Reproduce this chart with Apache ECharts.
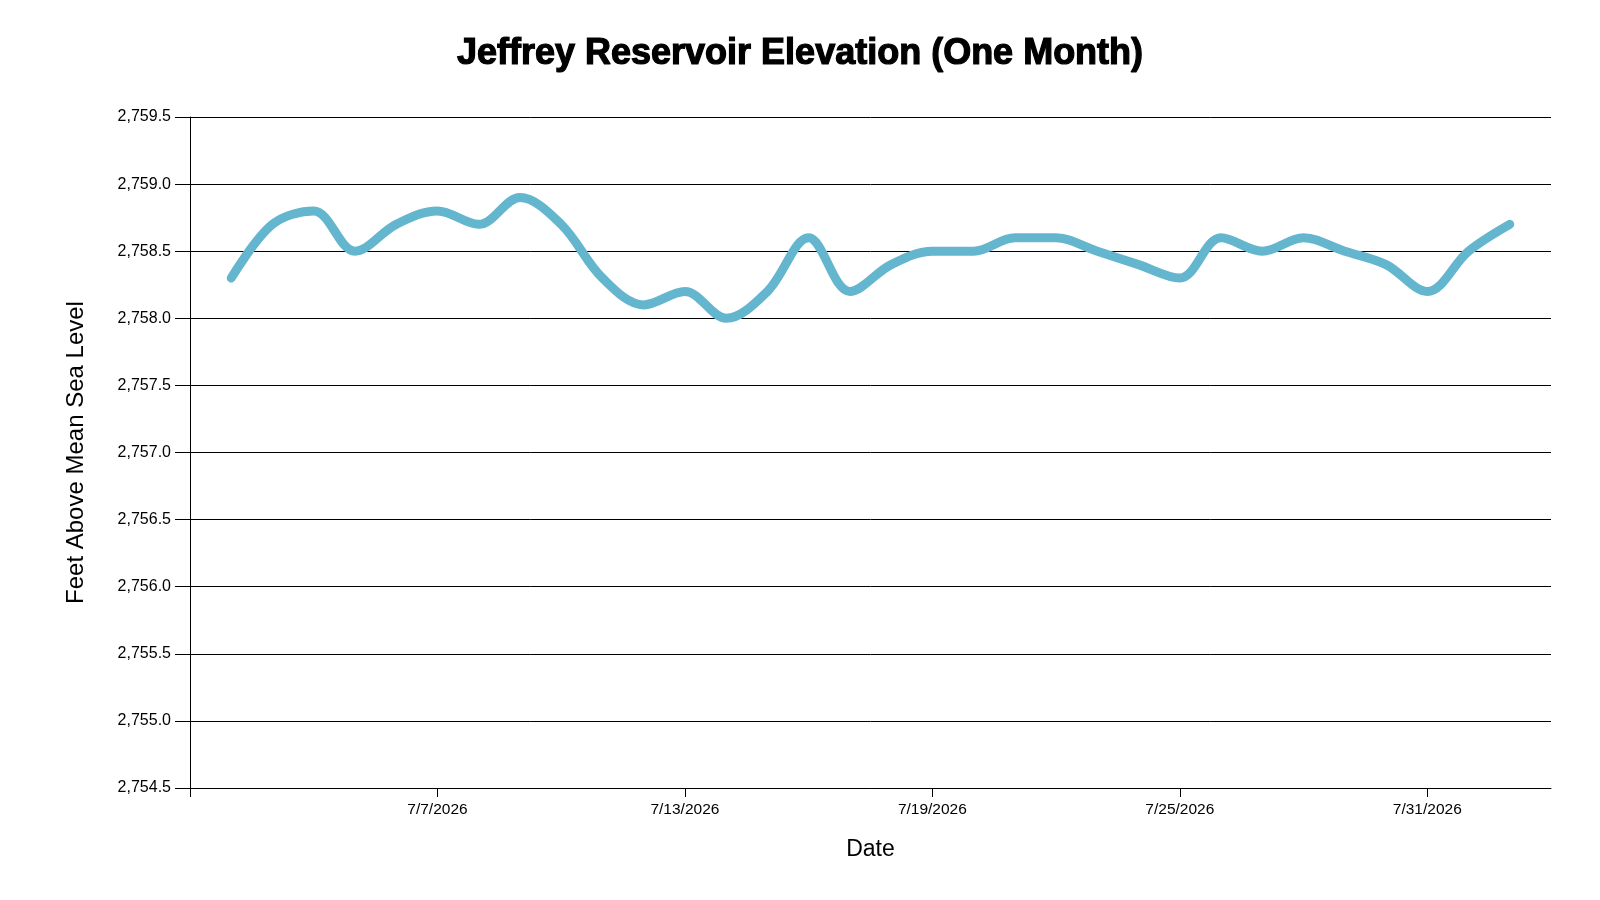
<!DOCTYPE html>
<html>
<head>
<meta charset="utf-8">
<title>Jeffrey Reservoir Elevation</title>
<script src="https://cdn.jsdelivr.net/npm/echarts@6/dist/echarts.min.js"></script>
<style>
  html, body { margin: 0; padding: 0; background: #fff; }
  #main { width: 1600px; height: 900px; }
</style>
</head>
<body>
<div id="main"></div>
<script>
// daily readings
const dates = ['7/2/2026', '7/3/2026', '7/4/2026', '7/5/2026', '7/6/2026', '7/7/2026', '7/8/2026', '7/9/2026',
  '7/10/2026', '7/11/2026', '7/12/2026', '7/13/2026', '7/14/2026', '7/15/2026', '7/16/2026', '7/17/2026',
  '7/18/2026', '7/19/2026', '7/20/2026', '7/21/2026', '7/22/2026', '7/23/2026', '7/24/2026', '7/25/2026',
  '7/26/2026', '7/27/2026', '7/28/2026', '7/29/2026', '7/30/2026', '7/31/2026', '8/1/2026', '8/2/2026']
const elevation = [2758.3, 2758.7, 2758.8, 2758.5, 2758.7, 2758.8, 2758.7, 2758.9,
  2758.7, 2758.3, 2758.1, 2758.2, 2758.0, 2758.2, 2758.6, 2758.2,
  2758.4, 2758.5, 2758.5, 2758.6, 2758.6, 2758.5, 2758.4, 2758.3,
  2758.6, 2758.5, 2758.6, 2758.5, 2758.4, 2758.2, 2758.5, 2758.7]
// x axis: axis runs from 7/1 to 8/3, labels every 6 days
const xStart = '7/1/2026'
const xEnd = '8/3/2026'
const xTickDates = ['7/1/2026', '7/7/2026', '7/13/2026', '7/19/2026', '7/25/2026', '7/31/2026']
const xLabelDates = ['7/7/2026', '7/13/2026', '7/19/2026', '7/25/2026', '7/31/2026']
const yMin = 2754.5
const yMax = 2759.5
const yStep = 0.5

// 日期字符串 -> 天数 (7/1 = 1)
const base = new Date(2026, 5, 30)
function dayNum(s) {
  const p = s.split('/')
  const d = new Date(+p[2], +p[0] - 1, +p[1])
  return Math.round((d - base) / 86400000)
}
function dayLabel(n) {
  const d = new Date(base.getTime() + n * 86400000)
  return (d.getMonth() + 1) + '/' + d.getDate() + '/' + d.getFullYear()
}

const font = 'Liberation Sans, Arial, sans-serif'
const myChart = echarts.init(document.getElementById('main'), null, { renderer: 'canvas' })

const option = {
  backgroundColor: '#fff',
  animation: false,
  title: {
    text: 'Jeffrey Reservoir Elevation (One Month)',
    left: 'center',
    top: 31,
    textStyle: {
      fontFamily: font,
      fontSize: 36,
      fontWeight: 'bold',
      color: '#000',
      textBorderColor: '#000',
      textBorderWidth: 1.2
    }
  },
  grid: { left: 190, right: 49, top: 117, bottom: 112, containLabel: false },
  xAxis: {
    type: 'value',
    min: dayNum(xStart),
    max: dayNum(xEnd),
    name: 'Date',
    nameLocation: 'middle',
    nameGap: 50,
    nameTextStyle: { fontFamily: font, fontSize: 23, color: '#000' },
    axisLine: { show: true, lineStyle: { color: '#000', width: 1 } },
    axisTick: {
      show: true,
      length: 9,
      lineStyle: { color: '#000' },
      customValues: xTickDates.map(dayNum)
    },
    axisLabel: {
      customValues: xLabelDates.map(dayNum),
      formatter: v => dayLabel(v),
      margin: 14,
      fontFamily: font,
      fontSize: 15.5,
      color: '#000'
    },
    splitLine: { show: false }
  },
  yAxis: {
    type: 'value',
    min: yMin,
    max: yMax,
    interval: yStep,
    name: 'Feet Above Mean Sea Level',
    nameLocation: 'middle',
    nameGap: 102,
    nameTextStyle: { fontFamily: font, fontSize: 24, color: '#000' },
    axisLine: { show: true, lineStyle: { color: '#000', width: 1 } },
    axisTick: { show: true, length: 15, lineStyle: { color: '#000' } },
    axisLabel: {
      margin: 19,
      fontFamily: font,
      fontSize: 16,
      color: '#000',
      formatter: v => v.toLocaleString('en-US', { minimumFractionDigits: 1, maximumFractionDigits: 1 })
    },
    splitLine: { show: true, lineStyle: { color: '#000', width: 1 } }
  },
  series: [
    {
      type: 'line',
      data: dates.map((d, i) => [dayNum(d), elevation[i]]),
      smooth: 0.35,
      showSymbol: false,
      lineStyle: { color: '#64b5ce', width: 9, cap: 'round', join: 'round' }
    }
  ]
}

myChart.setOption(option)
</script>
</body>
</html>
